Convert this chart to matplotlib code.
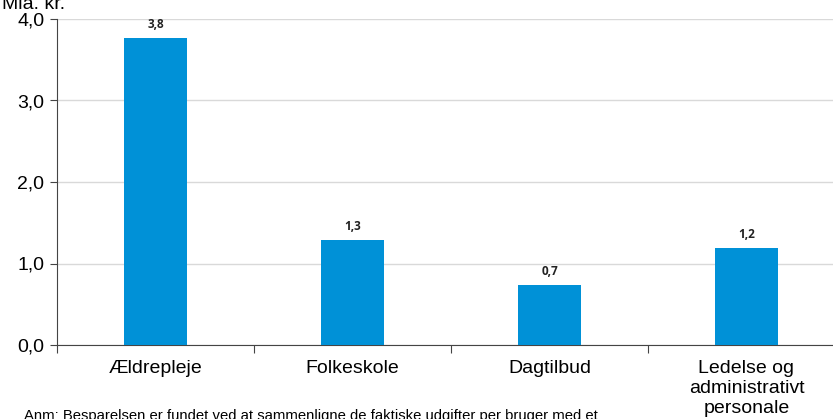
import matplotlib.pyplot as plt

categories = ["Ældrepleje", "Folkeskole", "Dagtilbud", "Ledelse og\nadministrativt\npersonale"]
values = [3.77, 1.29, 0.74, 1.19]
value_labels = ["3,8", "1,3", "0,7", "1,2"]
y_ticks = [0.0, 1.0, 2.0, 3.0, 4.0]
y_tick_labels = ["0,0", "1,0", "2,0", "3,0", "4,0"]

plt.rcParams['font.family'] = ['Liberation Sans', 'DejaVu Sans']

fig = plt.figure(figsize=(8.33, 4.19), dpi=100)
ax = fig.add_axes([57 / 833, 1 - 345 / 419, 788 / 833, 326 / 419])

x = range(len(categories))
ax.bar(x, values, width=0.315, color='#0091d7', zorder=3)

for xi, v, lab in zip(x, values, value_labels):
    ax.annotate(lab, (xi, v), xytext=(0, 5), textcoords='offset points',
                ha='center', va='bottom', fontsize=8.5, fontweight='bold',
                family=['Open Sans', 'DejaVu Sans'], color='#222222')

ax.set_xlim(-0.5, 3.5)
ax.set_ylim(0, 4.0)
ax.set_yticks(y_ticks)
ax.set_yticklabels(y_tick_labels, fontsize=14)
ax.set_xticks([i + 0.5 for i in range(-1, 4)], minor=False)
ax.set_xticklabels([])
ax.set_xticks(list(x), minor=True)
ax.set_xticklabels(categories, minor=True, fontsize=14, linespacing=1.22)
ax.tick_params(axis='x', which='minor', length=0, pad=11)
ax.tick_params(axis='x', which='major', length=6, direction='out', color='#444444')
ax.tick_params(axis='y', length=5, direction='out', color='#444444', pad=4)

ax.grid(axis='y', color='#d9d9d9', linewidth=1, zorder=0)
for side in ['top', 'right']:
    ax.spines[side].set_visible(False)
ax.spines['left'].set_color('#444444')
ax.spines['bottom'].set_color('#444444')

fig.text(2 / 833, 1 - 9 / 419, "Mia. kr.", fontsize=14, va='baseline', ha='left')
fig.text(24 / 833, 1 - 420 / 419, "Anm: Besparelsen er fundet ved at sammenligne de faktiske udgifter per bruger med et",
         fontsize=10.7, va='baseline', ha='left')

fig.savefig("out.png", dpi=100)
